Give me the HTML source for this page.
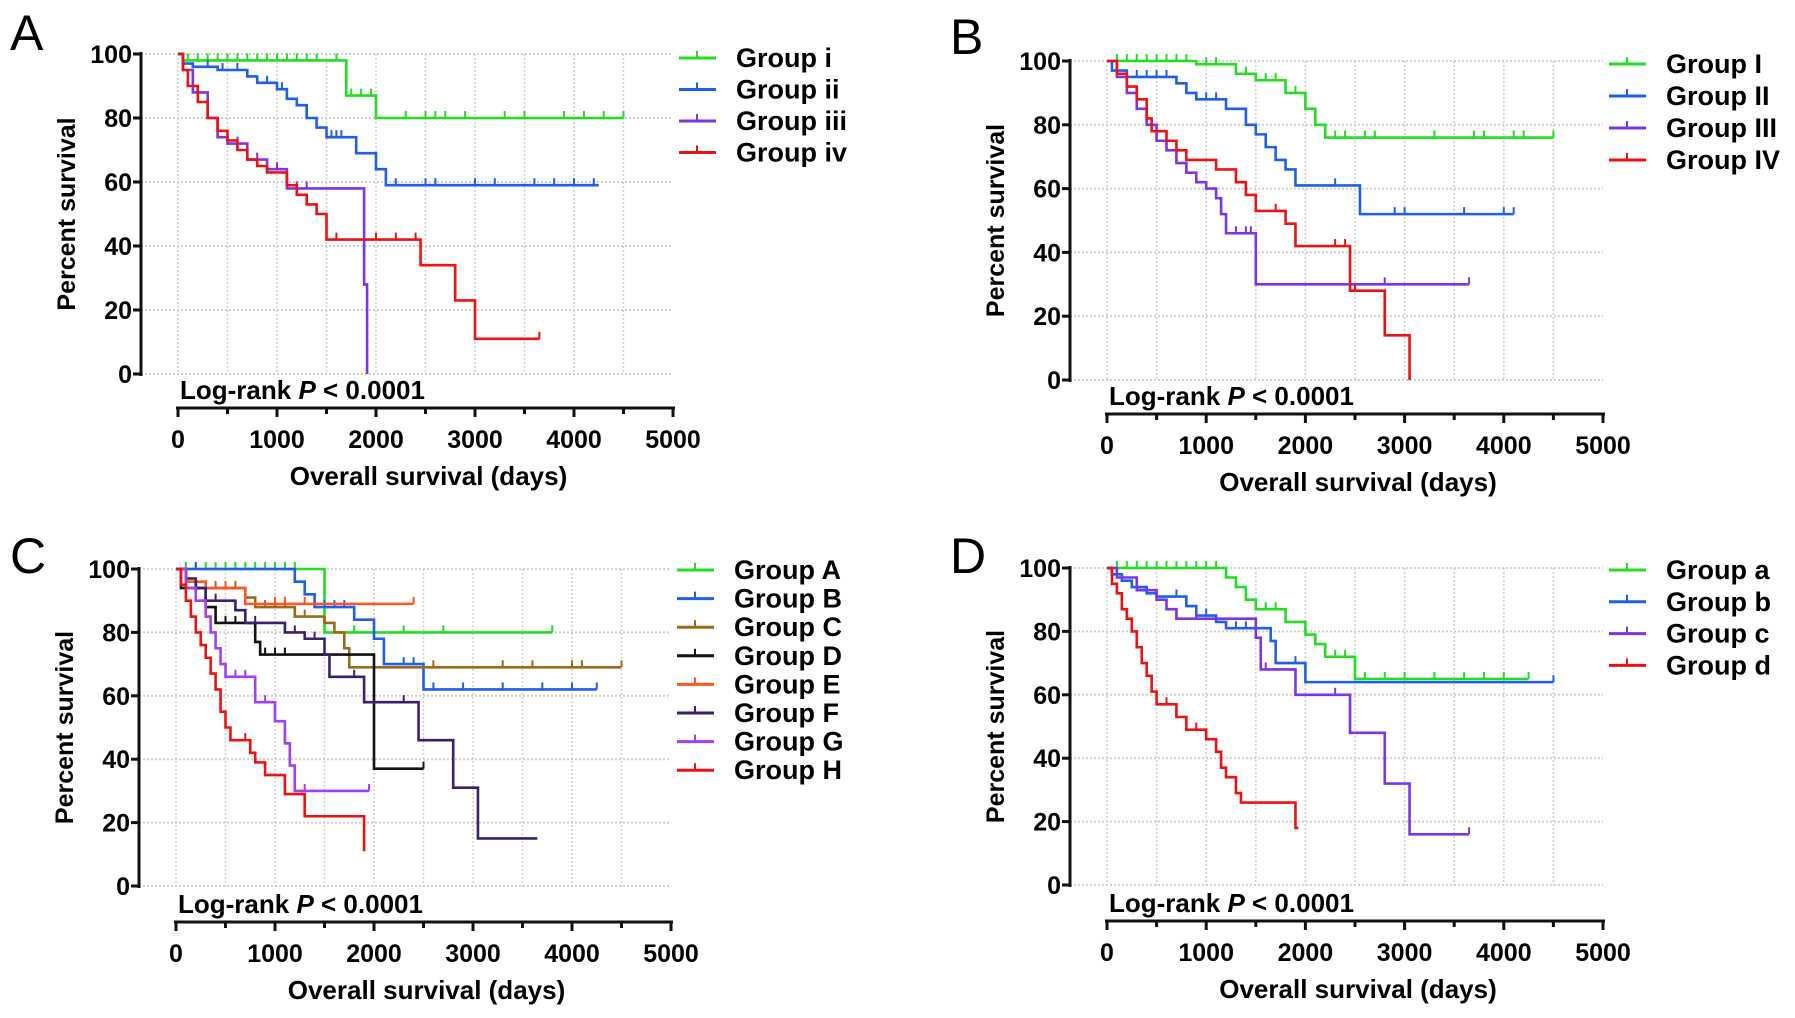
<!DOCTYPE html>
<html><head><meta charset="utf-8">
<style>
html,body{margin:0;padding:0;background:#fff;}
svg{display:block;font-family:"Liberation Sans",Arial,sans-serif;}
</style></head>
<body>
<svg id="fig" width="1795" height="1018" viewBox="0 0 1795 1018" xmlns="http://www.w3.org/2000/svg"></svg>
<script>
// ---- Data: step survival curves [time, percent] and censor times ----
const xTicks = [0,1000,2000,3000,4000,5000];
const yTicks = [0,20,40,60,80,100];

const aNames = ["Group i","Group ii","Group iii","Group iv"];
const aSteps = [
 [[0,100],[50,98],[1700,87],[2000,80]],
 [[0,100],[50,97],[150,96],[400,95],[700,93],[800,91],[1000,89],[1100,86],[1200,84],[1300,80],[1400,77],[1500,74],[1800,69],[2000,64],[2100,59]],
 [[0,100],[50,95],[150,88],[300,80],[400,74],[500,72],[700,67],[900,64],[1100,58],[1880,28],[1910,0]],
 [[0,100],[50,95],[100,90],[200,85],[300,80],[400,76],[500,73],[600,70],[700,67],[800,65],[900,63],[1100,59],[1200,56],[1300,53],[1400,50],[1500,42],[2450,34],[2800,23],[3000,11]]
];
const aEnds = [4500,4250,1910,3650];
const aCens = [
 [100,200,300,400,500,600,700,800,900,1000,1100,1200,1300,1400,1600,1750,1850,1950,2300,2500,2600,2700,2900,3300,3500,3900,4100,4300,4500],
 [300,450,600,900,1050,1550,1600,1650,2200,2500,2600,3000,3200,3600,3800,4000,4200],
 [600,800,1000,1200,1300],
 [500,900,1200,1600,2000,2200,2400,3650]
];

const bNames = ["Group I","Group II","Group III","Group IV"];
const bSteps = [
 [[0,100],[900,99],[1300,96],[1500,94],[1800,90],[2000,85],[2100,80],[2200,76]],
 [[0,100],[50,97],[200,95],[700,93],[800,90],[900,88],[1200,85],[1400,80],[1500,77],[1600,73],[1700,69],[1800,66],[1900,61],[2550,52]],
 [[0,100],[100,95],[200,90],[300,85],[400,80],[500,75],[600,72],[700,68],[800,65],[900,62],[1000,60],[1100,57],[1150,52],[1200,46],[1500,30]],
 [[0,100],[100,96],[200,92],[300,88],[400,82],[450,78],[600,75],[700,72],[800,69],[1100,66],[1300,62],[1400,58],[1500,53],[1800,49],[1900,42],[2450,28],[2800,14],[3050,0]]
];
const bEnds = [4500,4100,3650,3050];
const bCens = [
 [100,200,300,400,500,600,700,800,1000,1100,1400,1600,1700,1900,2300,2400,2600,2700,3300,3700,3800,4100,4200,4500],
 [300,400,500,600,700,1000,1100,1600,1700,2300,2900,3000,3600,4000,4100],
 [1300,1400,1450,2800,3650],
 [1400,1700,2300,2400,2500]
];

const cNames = ["Group A","Group B","Group C","Group D","Group E","Group F","Group G","Group H"];
const cSteps = [
 [[0,100],[1500,80]],
 [[0,100],[1200,96],[1300,92],[1400,88],[1800,84],[2000,78],[2100,70],[2500,62]],
 [[0,100],[100,96],[200,94],[700,91],[800,88],[1200,85],[1500,83],[1600,80],[1700,75],[1750,69]],
 [[0,100],[50,94],[300,88],[400,83],[800,77],[850,73],[2000,37]],
 [[0,100],[100,96],[300,94],[700,89]],
 [[0,100],[100,97],[200,94],[300,90],[600,87],[700,83],[1100,80],[1300,78],[1500,73],[1550,66],[1900,58],[2450,46],[2800,31],[3050,15]],
 [[0,100],[100,94],[200,90],[300,85],[350,80],[400,75],[450,70],[500,66],[800,58],[1000,52],[1100,45],[1150,38],[1200,30]],
 [[0,100],[50,95],[100,90],[150,85],[200,80],[250,76],[300,72],[350,67],[400,62],[450,55],[500,50],[550,46],[750,42],[800,39],[900,35],[1100,29],[1300,22],[1900,11]]
];
const cEnds = [3800,4250,4500,2500,2400,3650,1950,1900];
const cCens = [
 [100,200,300,400,500,600,700,800,900,1000,1100,1200,1800,2300,2700,3800],
 [200,1500,1600,1700,1800,2300,2400,2500,2600,2900,3300,3700,4000,4250],
 [300,400,500,600,900,1000,1100,1300,2600,3300,3600,4000,4100,4500],
 [200,500,600,900,1000,1100,2500],
 [500,1000,1100,1300,2400],
 [400,800,1200,1400,1800,2300],
 [600,700,800,900,1300,1950],
 [700,1900]
];

const dNames = ["Group a","Group b","Group c","Group d"];
const dSteps = [
 [[0,100],[1200,97],[1300,94],[1400,90],[1500,87],[1800,83],[2000,79],[2100,76],[2200,72],[2500,65]],
 [[0,100],[50,98],[150,96],[250,94],[400,92],[500,91],[800,88],[900,85],[1100,83],[1200,81],[1650,77],[1700,70],[2000,64]],
 [[0,100],[100,97],[300,93],[500,90],[600,87],[700,84],[1500,78],[1550,68],[1900,60],[2450,48],[2800,32],[3050,16]],
 [[0,100],[50,95],[100,92],[150,87],[200,84],[250,80],[300,75],[350,70],[400,66],[450,61],[500,57],[700,53],[800,49],[1000,46],[1100,42],[1150,37],[1200,34],[1300,29],[1350,26],[1900,18]]
];
const dEnds = [4250,4500,3650,1930];
const dCens = [
 [100,200,300,400,500,600,700,800,900,1000,1100,1600,1700,1800,2300,2400,2600,2800,3000,3300,3600,3800,4000,4250],
 [300,500,700,900,1000,1100,1300,1400,1500,1900,4500],
 [700,900,1600,2300,2450,2800,3650],
 [500,600,700,900,1300,1900]
];

const green="#22dd22", blue="#1f5fe8", purple="#7b35e8", red="#ee1111";
const aColors=[green,blue,purple,red];
const cColors=[green,blue,"#9a6a1a","#111111","#ff5522","#3a1f6e","#a040f0",red];

// ---- layout ----
const panels = [
 {id:"a",letter:"A",lx:10,lb:50,x0:178,x1:673,y100:54,y0:374,axY:408,names:aNames,steps:aSteps,ends:aEnds,cens:aCens,colors:aColors,lgTop:58,lgStep:31.5},
 {id:"b",letter:"B",lx:950,lb:54,x0:1107,x1:1603,y100:61,y0:380,axY:414,names:bNames,steps:bSteps,ends:bEnds,cens:bCens,colors:aColors,lgTop:64,lgStep:32},
 {id:"c",letter:"C",lx:10,lb:573,x0:176,x1:671,y100:569,y0:886,axY:922,names:cNames,steps:cSteps,ends:cEnds,cens:cCens,colors:cColors,lgTop:570,lgStep:28.6},
 {id:"d",letter:"D",lx:950,lb:573,x0:1107,x1:1603,y100:568,y0:885,axY:921,names:dNames,steps:dSteps,ends:dEnds,cens:dCens,colors:aColors,lgTop:570,lgStep:31.8}
];
const NS="http://www.w3.org/2000/svg";
const svg=document.getElementById("fig");
function mk(tag,attrs,parent,text){const e=document.createElementNS(NS,tag);for(const k in attrs)e.setAttribute(k,attrs[k]);if(text!==undefined)e.textContent=text;(parent||svg).appendChild(e);return e;}

panels.forEach(p=>{
 const g=mk("g",{});
 
 
 const X=t=>p.x0+(p.x1-p.x0)*t/5000;
 const Y=v=>p.y0-(p.y0-p.y100)*v/100;
 const yAx=p.x0-37;
 const L=mk("text",{x:p.lx,y:p.lb,"font-size":50},g,p.letter);
 
 
 // grid
 for(let t=0;t<=4500;t+=500){mk("line",{x1:X(t),x2:X(t),y1:p.y100,y2:p.y0,stroke:"#cfcfcf","stroke-width":1.5,"stroke-dasharray":"2,2"},g);}
 yTicks.forEach(v=>{mk("line",{x1:yAx,x2:X(5000),y1:Y(v),y2:Y(v),stroke:"#cfcfcf","stroke-width":2,"stroke-dasharray":"2,2"},g);});
 // y axis
 const ya=mk("line",{x1:yAx,x2:yAx,y1:p.y100-2,y2:p.y0+2,stroke:"#111","stroke-width":3},g);
 
 
 yTicks.forEach(v=>{
  mk("line",{x1:yAx-8,x2:yAx,y1:Y(v),y2:Y(v),stroke:"#111","stroke-width":3},g);
  const t=mk("text",{x:yAx-9,y:Y(v)+9,"text-anchor":"end","font-size":25,"font-weight":"bold"},g,v);
  
  
 });
 const yt=mk("text",{transform:`translate(${yAx-66},${(p.y0+p.y100)/2}) rotate(-90)`,"text-anchor":"middle","font-size":25,"font-weight":"bold"},g,"Percent survival");
 
 
 // x axis
 const xa=mk("line",{x1:X(0)-2,x2:X(5000)+2,y1:p.axY,y2:p.axY,stroke:"#111","stroke-width":3},g);
 
 
 for(let t=0;t<=5000;t+=500){mk("line",{x1:X(t),x2:X(t),y1:p.axY,y2:p.axY+(t%1000?6:9),stroke:"#111","stroke-width":3},g);}
 xTicks.forEach(t=>{
  const tx=mk("text",{x:X(t),y:p.axY+40,"text-anchor":"middle","font-size":25,"font-weight":"bold"},g,t);
  
  
 });
 const xt=mk("text",{x:(X(0)+X(5000))/2+3,y:p.axY+77,"text-anchor":"middle","font-size":26,"font-weight":"bold"},g,"Overall survival (days)");
 
 
 const lr=mk("text",{x:X(0)+2,y:p.axY-9,"font-size":26,"font-weight":"bold"},g);
 
 
 mk("tspan",{},lr,"Log-rank ");
 mk("tspan",{"font-style":"italic"},lr,"P");
 mk("tspan",{},lr," < 0.0001");
 // curves
 p.steps.forEach((s,i)=>{
  const col=p.colors[i];
  let d=`M${X(s[0][0])},${Y(s[0][1])}`;
  for(let k=1;k<s.length;k++){d+=` H${X(s[k][0])} V${Y(s[k][1])}`;}
  d+=` H${X(p.ends[i])}`;
  const path=mk("path",{d,fill:"none",stroke:col,"stroke-width":2.6},g);
  
  
  const survAt=t=>{let v=s[0][1];for(const q of s){if(q[0]<=t)v=q[1];}return v;};
  p.cens[i].forEach(t=>{
   const v=survAt(t);
   const c=mk("line",{x1:X(t),x2:X(t),y1:Y(v),y2:Y(v)-7,stroke:col,"stroke-width":2},g);
   
   
  });
  // legend
  const ly=p.lgTop+i*p.lgStep;
  const lg=mk("g",{},g);
  
  
  mk("line",{x1:p.x1+6,x2:p.x1+43,y1:ly,y2:ly,stroke:col,"stroke-width":3},lg);
  mk("line",{x1:p.x1+24,x2:p.x1+24,y1:ly,y2:ly-7,stroke:col,"stroke-width":2},lg);
  mk("text",{x:p.x1+63,y:ly+9,"font-size":27,"font-weight":"bold"},lg,p.names[i]);
 });
});
</script>
</body></html>
